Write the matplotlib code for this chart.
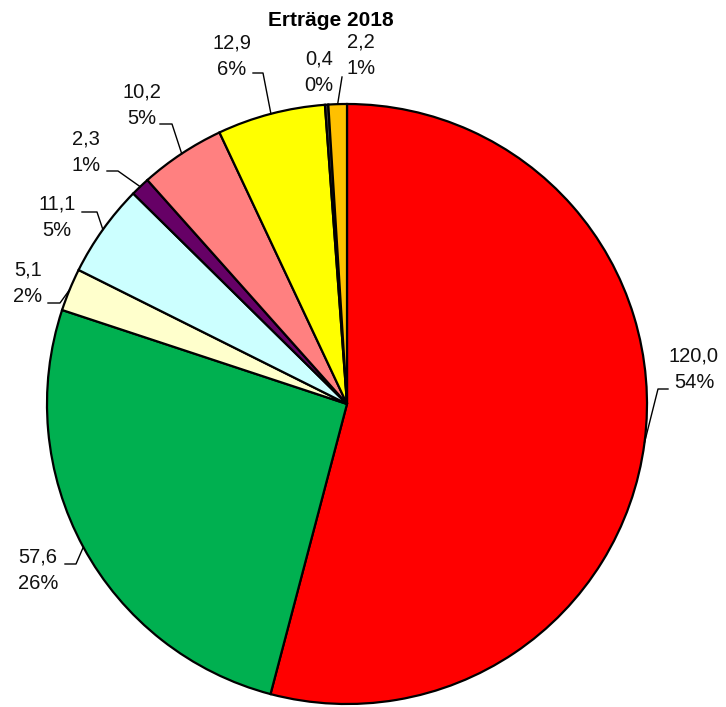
import numpy as np
import matplotlib
matplotlib.use("Agg")
import matplotlib.pyplot as plt

title = "Erträge 2018"
values = [120.0, 57.6, 5.1, 11.1, 2.3, 10.2, 12.9, 0.4, 2.2]
value_labels = ["120,0", "57,6", "5,1", "11,1", "2,3", "10,2", "12,9", "0,4", "2,2"]
colors = ["#FF0000", "#00B050", "#FFFFCC", "#CCFFFF", "#660066",
          "#FF8080", "#FFFF00", "#404040", "#FFC000"]

# layout (pixel coordinates, y measured from top)
W, H = 726, 707
cx, cy, R = 347, 404, 300
label_pos = [(694, 369), (38, 570), (28, 283), (57, 217), (86, 152),
             (142, 105), (232, 56), (319, 72), (361, 55)]
leader_pts = [[(658, 389), (668, 389)], [(76, 564), (65, 564)],
              [(60, 303), (48, 303)], [(97, 212), (82, 212)],
              [(118, 171), (107, 171)], [(172, 124), (160, 124)],
              [(263, 73), (253, 73)], None, [(342, 77)]]

plt.rcParams['font.family'] = ['Liberation Sans', 'DejaVu Sans']
fig = plt.figure(figsize=(W / 100, H / 100), dpi=100)
ax = fig.add_axes([0, 0, 1, 1])

wedges, _ = ax.pie(values, colors=colors, startangle=90, counterclock=False,
                   center=(cx, H - cy), radius=R,
                   wedgeprops=dict(edgecolor='black', linewidth=1.6))
ax.set_aspect('auto')
ax.set_xlim(0, W)
ax.set_ylim(0, H)
ax.axis('off')

total = sum(values)
cum = 0.0
for i, v in enumerate(values):
    mid = (cum + v / 2) / total * 2 * np.pi
    cum += v
    ex = cx + R * np.sin(mid)
    ey = cy - R * np.cos(mid)
    pct = f"{round(v / total * 100):.0f}%"
    lx, ly = label_pos[i]
    ax.text(lx, H - ly, f"{value_labels[i]}\n{pct}", ha='center', va='center',
            multialignment='center', fontsize=14.5, color='#111111',
            linespacing=1.5)
    if leader_pts[i]:
        xs = [ex] + [p[0] for p in leader_pts[i]]
        ys = [H - ey] + [H - p[1] for p in leader_pts[i]]
        ax.plot(xs, ys, color='black', linewidth=1.0)

ax.text(331, H - 20, title, ha='center', va='center', fontsize=15,
        fontweight='bold')

fig.savefig("out.png", dpi=100)
